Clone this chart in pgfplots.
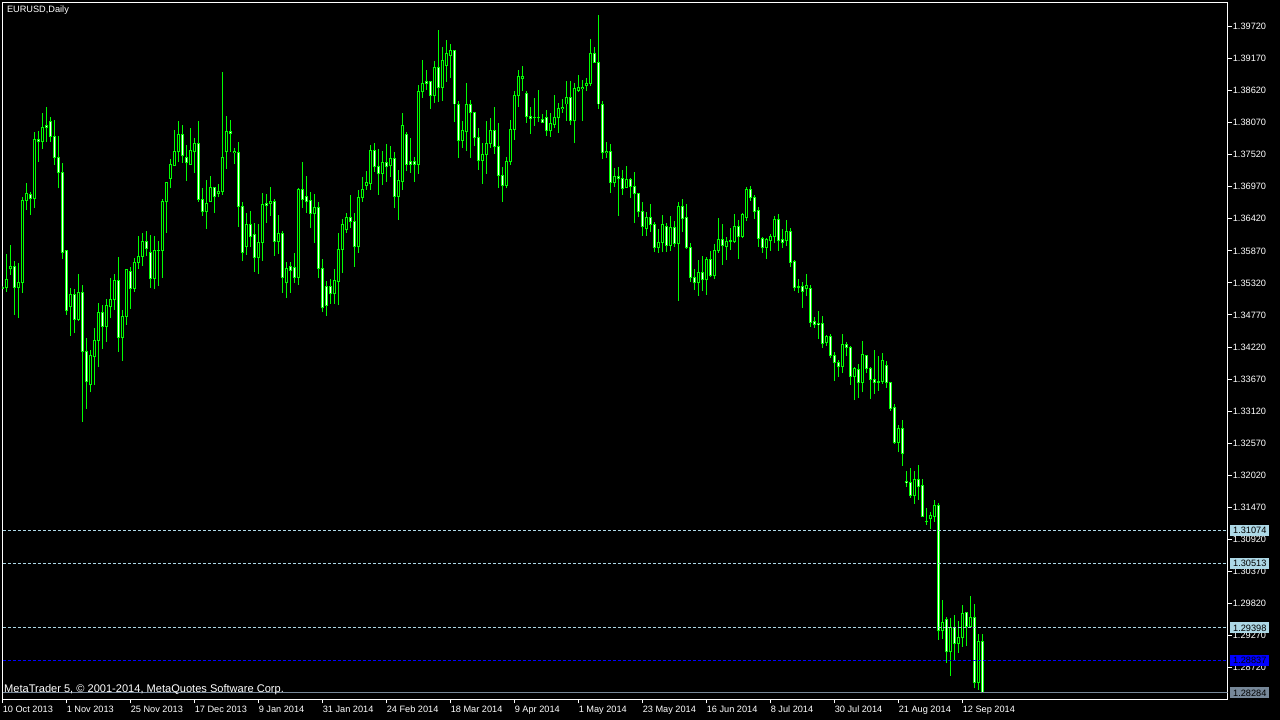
\documentclass[border=0pt]{standalone}
\usepackage{pgfplots}
\pgfplotsset{compat=1.18}
\usepackage{pgfplotstable}
\usepackage{fontspec}
\setmainfont{Liberation Sans}

\definecolor{candle}{RGB}{0,255,0}
\definecolor{levelline}{RGB}{173,216,230}
\definecolor{bidline}{RGB}{119,136,153}

% EURUSD daily: bar index, open, high, low, close
\pgfplotstableread{
x o h l c
0 1.3523 1.3527 1.3522 1.3524
1 1.3524 1.3582 1.3517 1.3537
2 1.3556 1.3597 1.3546 1.3560
3 1.3560 1.3570 1.3477 1.3524
4 1.3524 1.3567 1.3472 1.3532
5 1.3532 1.3680 1.3515 1.3673
6 1.3673 1.3704 1.3657 1.3685
7 1.3683 1.3688 1.3649 1.3676
8 1.3676 1.3791 1.3661 1.3778
9 1.3778 1.3793 1.3740 1.3774
10 1.3774 1.3824 1.3762 1.3798
11 1.3802 1.3833 1.3774 1.3798
12 1.3809 1.3817 1.3774 1.3783
13 1.3783 1.3812 1.3735 1.3747
14 1.3747 1.3784 1.3694 1.3721
15 1.3721 1.3738 1.3573 1.3585
16 1.3587 1.3589 1.3477 1.3484
17 1.3491 1.3524 1.3441 1.3512
18 1.3512 1.3522 1.3446 1.3470
19 1.3470 1.3548 1.3467 1.3515
20 1.3515 1.3529 1.3294 1.3414
21 1.3414 1.3438 1.3316 1.3362
22 1.3357 1.3416 1.3344 1.3407
23 1.3405 1.3455 1.3357 1.3434
24 1.3434 1.3498 1.3388 1.3481
25 1.3481 1.3494 1.3419 1.3457
26 1.3457 1.3505 1.3431 1.3494
27 1.3491 1.3541 1.3472 1.3503
28 1.3503 1.3548 1.3486 1.3536
29 1.3536 1.3577 1.3414 1.3438
30 1.3438 1.3486 1.3398 1.3474
31 1.3474 1.3556 1.3460 1.3555
32 1.3551 1.3560 1.3488 1.3522
33 1.3522 1.3575 1.3517 1.3567
34 1.3567 1.3613 1.3556 1.3577
35 1.3577 1.3618 1.3561 1.3603
36 1.3603 1.3621 1.3579 1.3591
37 1.3585 1.3615 1.3524 1.3539
38 1.3539 1.3613 1.3522 1.3587
39 1.3588 1.3604 1.3527 1.3587
40 1.3587 1.3676 1.3541 1.3671
41 1.3671 1.3706 1.3618 1.3704
42 1.3711 1.3745 1.3694 1.3735
43 1.3733 1.3795 1.3733 1.3757
44 1.3757 1.3810 1.3740 1.3786
45 1.3786 1.3803 1.3738 1.3750
46 1.3748 1.3769 1.3707 1.3738
47 1.3736 1.3798 1.3735 1.3759
48 1.3757 1.3781 1.3721 1.3771
49 1.3771 1.3810 1.3671 1.3675
50 1.3675 1.3694 1.3647 1.3654
51 1.3654 1.3709 1.3625 1.3668
52 1.3671 1.3716 1.3671 1.3695
53 1.3695 1.3697 1.3652 1.3680
54 1.3685 1.3702 1.3680 1.3688
55 1.3688 1.3894 1.3683 1.3747
56 1.3757 1.3819 1.3728 1.3791
57 1.3791 1.3812 1.3757 1.3788
58 1.3755 1.3764 1.3736 1.3757
59 1.3755 1.3774 1.3628 1.3663
60 1.3663 1.3671 1.3570 1.3585
61 1.3594 1.3652 1.3580 1.3633
62 1.3633 1.3656 1.3594 1.3611
63 1.3615 1.3635 1.3551 1.3575
64 1.3575 1.3633 1.3548 1.3601
65 1.3601 1.3687 1.3570 1.3666
66 1.3668 1.3685 1.3635 1.3664
67 1.3668 1.3697 1.3647 1.3671
68 1.3671 1.3676 1.3579 1.3603
69 1.3603 1.3649 1.3582 1.3616
70 1.3616 1.3621 1.3515 1.3541
71 1.3532 1.3568 1.3506 1.3556
72 1.3560 1.3568 1.3515 1.3554
73 1.3558 1.3584 1.3532 1.3542
74 1.3542 1.3695 1.3529 1.3693
75 1.3693 1.3740 1.3661 1.3675
76 1.3680 1.3716 1.3652 1.3671
77 1.3673 1.3688 1.3627 1.3651
78 1.3651 1.3685 1.3601 1.3661
79 1.3661 1.3671 1.3541 1.3556
80 1.3556 1.3573 1.3482 1.3489
81 1.3525 1.3536 1.3476 1.3493
82 1.3525 1.3539 1.3496 1.3513
83 1.3513 1.3555 1.3496 1.3536
84 1.3534 1.3618 1.3494 1.3589
85 1.3589 1.3642 1.3549 1.3633
86 1.3623 1.3652 1.3618 1.3644
87 1.3644 1.3683 1.3627 1.3637
88 1.3637 1.3652 1.3560 1.3594
89 1.3594 1.3692 1.3584 1.3678
90 1.3678 1.3714 1.3671 1.3692
91 1.3699 1.3724 1.3692 1.3704
92 1.3702 1.3769 1.3692 1.3760
93 1.3760 1.3772 1.3723 1.3731
94 1.3731 1.3762 1.3683 1.3719
95 1.3719 1.3759 1.3700 1.3738
96 1.3738 1.3771 1.3706 1.3731
97 1.3733 1.3767 1.3714 1.3745
98 1.3745 1.3757 1.3661 1.3681
99 1.3681 1.3726 1.3640 1.3707
100 1.3706 1.3824 1.3692 1.3802
101 1.3786 1.3791 1.3724 1.3736
102 1.3740 1.3781 1.3721 1.3736
103 1.3740 1.3748 1.3706 1.3736
104 1.3736 1.3872 1.3719 1.3860
105 1.3860 1.3915 1.3850 1.3874
106 1.3877 1.3898 1.3863 1.3874
107 1.3877 1.3879 1.3831 1.3853
108 1.3853 1.3913 1.3841 1.3901
109 1.3901 1.3966 1.3843 1.3867
110 1.3867 1.3937 1.3845 1.3913
111 1.3905 1.3948 1.3877 1.3925
112 1.3923 1.3942 1.3884 1.3930
113 1.3930 1.3932 1.3808 1.3839
114 1.3839 1.3845 1.3747 1.3776
115 1.3776 1.3809 1.3764 1.3793
116 1.3791 1.3875 1.3759 1.3838
117 1.3838 1.3846 1.3747 1.3824
118 1.3824 1.3826 1.3767 1.3781
119 1.3781 1.3797 1.3726 1.3742
120 1.3742 1.3772 1.3702 1.3752
121 1.3752 1.3809 1.3719 1.3772
122 1.3772 1.3815 1.3764 1.3793
123 1.3793 1.3834 1.3754 1.3766
124 1.3766 1.3807 1.3695 1.3716
125 1.3716 1.3731 1.3671 1.3699
126 1.3699 1.3748 1.3694 1.3740
127 1.3740 1.3812 1.3735 1.3795
128 1.3795 1.3862 1.3778 1.3853
129 1.3853 1.3898 1.3834 1.3886
130 1.3882 1.3905 1.3862 1.3886
131 1.3857 1.3862 1.3807 1.3817
132 1.3817 1.3833 1.3788 1.3814
133 1.3815 1.3850 1.3802 1.3815
134 1.3816 1.3863 1.3808 1.3815
135 1.3812 1.3822 1.3807 1.3807
136 1.3815 1.3829 1.3784 1.3793
137 1.3793 1.3824 1.3783 1.3805
138 1.3803 1.3855 1.3798 1.3815
139 1.3815 1.3841 1.3790 1.3831
140 1.3831 1.3848 1.3824 1.3833
141 1.3839 1.3879 1.3810 1.3850
142 1.3850 1.3879 1.3803 1.3810
143 1.3810 1.3875 1.3772 1.3865
144 1.3863 1.3889 1.3860 1.3867
145 1.3865 1.3881 1.3810 1.3868
146 1.3870 1.3884 1.3862 1.3874
147 1.3874 1.3951 1.3870 1.3925
148 1.3925 1.3937 1.3910 1.3910
149 1.3910 1.3992 1.3831 1.3839
150 1.3839 1.3845 1.3745 1.3755
151 1.3755 1.3774 1.3747 1.3757
152 1.3757 1.3771 1.3687 1.3704
153 1.3704 1.3730 1.3697 1.3714
154 1.3714 1.3731 1.3647 1.3711
155 1.3711 1.3726 1.3683 1.3694
156 1.3695 1.3733 1.3694 1.3709
157 1.3709 1.3712 1.3678 1.3697
158 1.3697 1.3723 1.3635 1.3685
159 1.3685 1.3687 1.3645 1.3654
160 1.3654 1.3670 1.3613 1.3628
161 1.3625 1.3654 1.3613 1.3644
162 1.3644 1.3668 1.3620 1.3633
163 1.3633 1.3637 1.3585 1.3592
164 1.3592 1.3625 1.3584 1.3601
165 1.3601 1.3649 1.3585 1.3633
166 1.3628 1.3635 1.3585 1.3597
167 1.3597 1.3647 1.3587 1.3627
168 1.3627 1.3639 1.3594 1.3599
169 1.3599 1.3670 1.3501 1.3663
170 1.3663 1.3676 1.3620 1.3642
171 1.3645 1.3668 1.3591 1.3592
172 1.3592 1.3601 1.3534 1.3542
173 1.3542 1.3556 1.3520 1.3532
174 1.3532 1.3572 1.3510 1.3549
175 1.3549 1.3579 1.3518 1.3537
176 1.3537 1.3577 1.3512 1.3572
177 1.3572 1.3587 1.3542 1.3544
178 1.3544 1.3599 1.3539 1.3587
179 1.3587 1.3644 1.3584 1.3606
180 1.3606 1.3633 1.3563 1.3597
181 1.3594 1.3611 1.3572 1.3603
182 1.3603 1.3627 1.3589 1.3604
183 1.3603 1.3651 1.3601 1.3628
184 1.3628 1.3640 1.3573 1.3611
185 1.3611 1.3652 1.3609 1.3649
186 1.3645 1.3697 1.3639 1.3692
187 1.3692 1.3699 1.3673 1.3678
188 1.3678 1.3682 1.3642 1.3654
189 1.3657 1.3663 1.3594 1.3608
190 1.3608 1.3611 1.3584 1.3592
191 1.3592 1.3609 1.3573 1.3606
192 1.3604 1.3616 1.3587 1.3611
193 1.3611 1.3647 1.3601 1.3640
194 1.3640 1.3651 1.3587 1.3604
195 1.3606 1.3625 1.3592 1.3601
196 1.3604 1.3640 1.3596 1.3620
197 1.3620 1.3627 1.3560 1.3567
198 1.3568 1.3572 1.3518 1.3524
199 1.3525 1.3539 1.3515 1.3524
200 1.3525 1.3534 1.3489 1.3518
201 1.3522 1.3548 1.3510 1.3527
202 1.3522 1.3529 1.3457 1.3464
203 1.3465 1.3474 1.3455 1.3460
204 1.3462 1.3484 1.3436 1.3460
205 1.3462 1.3476 1.3421 1.3428
206 1.3429 1.3443 1.3424 1.3440
207 1.3440 1.3445 1.3403 1.3407
208 1.3407 1.3414 1.3364 1.3395
209 1.3395 1.3400 1.3371 1.3388
210 1.3388 1.3445 1.3378 1.3426
211 1.3427 1.3431 1.3407 1.3422
212 1.3422 1.3424 1.3357 1.3371
213 1.3371 1.3388 1.3331 1.3385
214 1.3383 1.3393 1.3335 1.3361
215 1.3361 1.3433 1.3344 1.3409
216 1.3407 1.3409 1.3378 1.3385
217 1.3385 1.3388 1.3333 1.3367
218 1.3367 1.3416 1.3342 1.3361
219 1.3361 1.3407 1.3347 1.3362
220 1.3362 1.3412 1.3359 1.3398
221 1.3391 1.3398 1.3352 1.3361
222 1.3361 1.3362 1.3313 1.3316
223 1.3318 1.3325 1.3256 1.3258
224 1.3258 1.3289 1.3241 1.3282
225 1.3282 1.3297 1.3218 1.3239
226 1.3192 1.3210 1.3182 1.3190
227 1.3189 1.3215 1.3163 1.3167
228 1.3167 1.3210 1.3153 1.3194
229 1.3194 1.3220 1.3160 1.3182
230 1.3184 1.3196 1.3131 1.3131
231 1.3123 1.3146 1.3117 1.3122
232 1.3127 1.3138 1.3110 1.3132
233 1.3131 1.3160 1.3122 1.3150
234 1.3150 1.3155 1.2920 1.2935
235 1.2935 1.2988 1.2921 1.2950
236 1.2954 1.2959 1.2880 1.2899
237 1.2899 1.2957 1.2858 1.2940
238 1.2940 1.2962 1.2885 1.2914
239 1.2914 1.2951 1.2897 1.2923
240 1.2923 1.2980 1.2908 1.2964
241 1.2967 1.2968 1.2909 1.2942
242 1.2942 1.2995 1.2942 1.2957
243 1.2957 1.2981 1.2836 1.2846
244 1.2846 1.2930 1.2834 1.2916
245 1.2916 1.2930 1.28284 1.28284
}\candles

\begin{document}
\begin{tikzpicture}[font=\fontsize{6.9}{8}\selectfont]
\path[use as bounding box] (0,0) rectangle (960pt,540pt);
\fill[black] (0,0) rectangle (960pt,540pt);
\begin{axis}[
  at={(1.875pt,15.375pt)}, anchor=south west,
  scale only axis, width=918.75pt, height=522.75pt,
  xmin=0, xmax=306.25, ymin=1.28171, ymax=1.40132,
  axis line style={white, line width=0.75pt},
  tick style={white, line width=0.75pt},
  tick align=outside, major tick length=3pt,
  xtick pos=bottom, ytick pos=right,
  yticklabel pos=right,
  xtick={0,16,...,240},
  xticklabels={10 Oct 2013, 1 Nov 2013, 25 Nov 2013, 17 Dec 2013, 9 Jan 2014, 31 Jan 2014, 24 Feb 2014, 18 Mar 2014, 9 Apr 2014, 1 May 2014, 23 May 2014, 16 Jun 2014, 8 Jul 2014, 30 Jul 2014, 21 Aug 2014, 12 Sep 2014},
  ytick={1.2872,1.2927,1.2982,1.3037,1.3092,1.3147,1.3202,1.3257,1.3312,1.3367,1.3422,1.3477,1.3532,1.3587,1.3642,1.3697,1.3752,1.3807,1.3862,1.3917,1.3972},
  yticklabels={1.28720,1.29270,1.29820,1.30370,1.30920,1.31470,1.32020,1.32570,1.33120,1.33670,1.34220,1.34770,1.35320,1.35870,1.36420,1.36970,1.37520,1.38070,1.38620,1.39170,1.39720},
  ticklabel style={white},
  xticklabel style={anchor=north west, inner sep=0pt, xshift=0pt, yshift=-1.5pt},
  yticklabel style={anchor=west, inner sep=0pt, xshift=0.8pt},
  axis background/.style={fill=black},
]
% wicks
\addplot[draw=none, mark=none, forget plot,
  error bars/.cd, y dir=plus, y explicit, error mark=none,
  error bar style={draw=candle, line width=0.75pt, solid}]
  table[x=x, y=l, y error plus expr=\thisrow{h}-\thisrow{l}] {\candles};
% body outlines
\addplot[draw=none, mark=none, forget plot,
  error bars/.cd, y dir=plus, y explicit, error mark=none,
  error bar style={draw=candle, line width=2.25pt, solid}]
  table[x=x, y expr={min(\thisrow{o},\thisrow{c})-0.0000858},
        y error plus expr={abs(\thisrow{o}-\thisrow{c})+0.0001716}] {\candles};
% bear body fill
\addplot[draw=none, mark=none, forget plot,
  error bars/.cd, y dir=plus, y explicit, error mark=none,
  error bar style={draw=white, line width=0.75pt, solid}]
  table[x=x, y expr={\thisrow{c}+0.0000858},
        y error plus expr={max(0,\thisrow{o}-\thisrow{c}-0.0001716)}] {\candles};
% bull body fill
\addplot[draw=none, mark=none, forget plot,
  error bars/.cd, y dir=plus, y explicit, error mark=none,
  error bar style={draw=black, line width=0.75pt, solid}]
  table[x=x, y expr={\thisrow{o}+0.0000858},
        y error plus expr={max(0,\thisrow{c}-\thisrow{o}-0.0001716)}] {\candles};
% horizontal levels
\addplot[levelline, line width=0.75pt, dash pattern=on 2.25pt off 1.5pt, forget plot] coordinates {(0,1.31074) (306.25,1.31074)};
\addplot[levelline, line width=0.75pt, dash pattern=on 2.25pt off 1.5pt, forget plot] coordinates {(0,1.30513) (306.25,1.30513)};
\addplot[levelline, line width=0.75pt, dash pattern=on 2.25pt off 1.5pt, forget plot] coordinates {(0,1.29398) (306.25,1.29398)};
\addplot[blue, line width=0.75pt, dash pattern=on 2.25pt off 1.5pt, forget plot] coordinates {(0,1.28837) (306.25,1.28837)};
\addplot[bidline, line width=0.75pt, forget plot] coordinates {(0,1.28284) (306.25,1.28284)};
\coordinate (L1) at (axis cs:306.25,1.31074);
\coordinate (L2) at (axis cs:306.25,1.30513);
\coordinate (L3) at (axis cs:306.25,1.29398);
\coordinate (L4) at (axis cs:306.25,1.28837);
\coordinate (L5) at (axis cs:306.25,1.28284);
\coordinate (TL) at (rel axis cs:0,1);
\coordinate (BL) at (rel axis cs:0,0);
\end{axis}
\tikzset{pricebox/.style={anchor=west, xshift=1.9pt, inner xsep=1pt, inner ysep=0pt,
  minimum width=29.25pt, minimum height=8.25pt, text=black}}
\node[pricebox, fill=levelline] at (L1) {1.31074};
\node[pricebox, fill=levelline] at (L2) {1.30513};
\node[pricebox, fill=levelline] at (L3) {1.29398};
\node[pricebox, fill=blue] at (L4) {1.28837};
\node[pricebox, fill=bidline] at (L5) {1.28284};
\node[anchor=north west, inner sep=0pt, white, xshift=3.2pt, yshift=-2pt] at (TL) {EURUSD,Daily};
\node[anchor=base west, inner sep=0pt, white, xshift=1.1pt, yshift=4.9pt, font=\fontsize{8.3}{9}\selectfont] at (BL) {MetaTrader 5, © 2001-2014, MetaQuotes Software Corp.};
\end{tikzpicture}
\end{document}
